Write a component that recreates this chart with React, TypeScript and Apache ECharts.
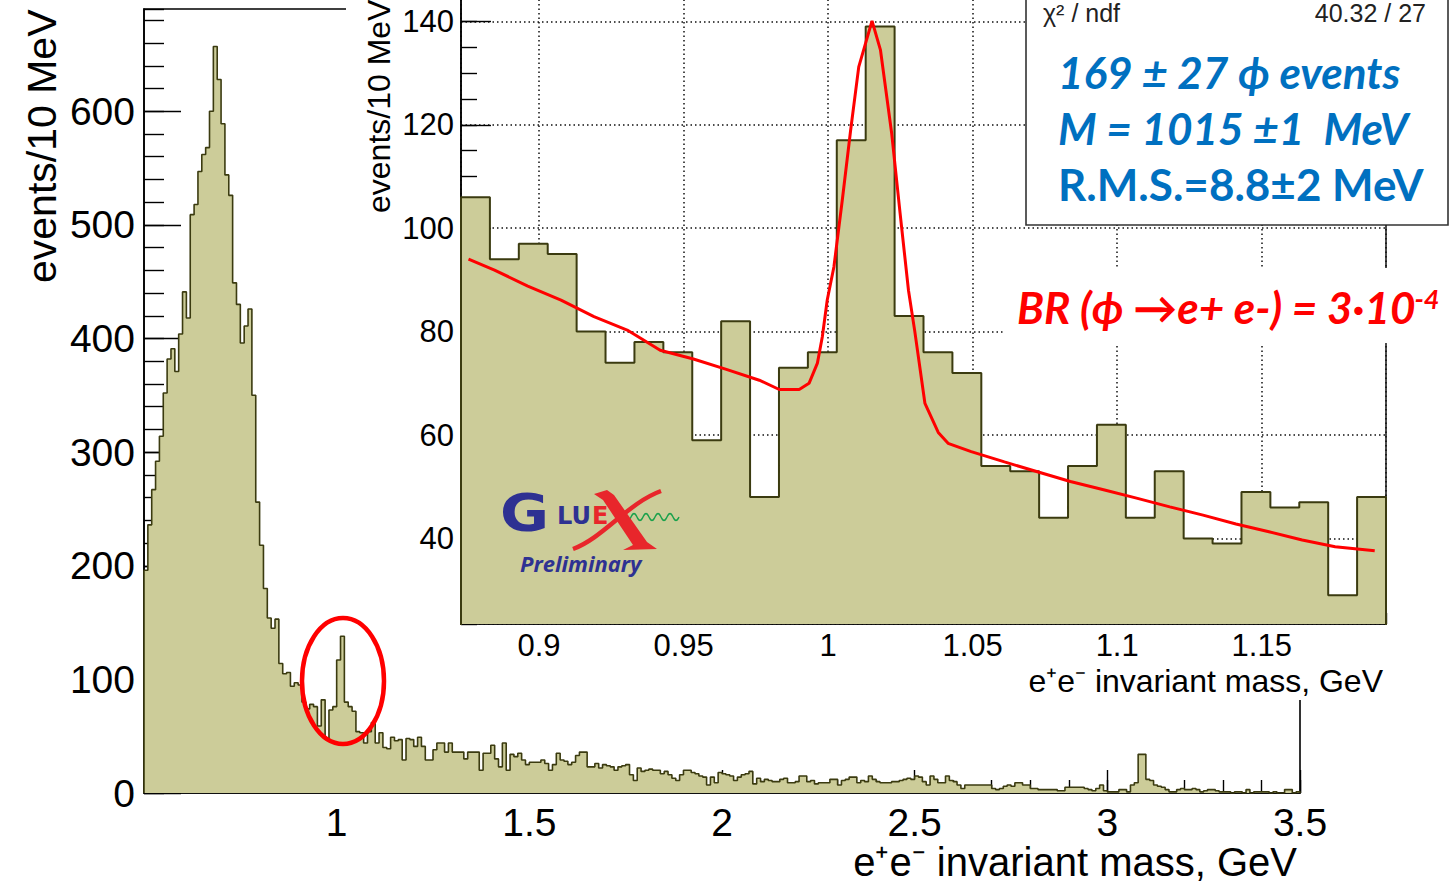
import React, { useEffect, useRef } from 'react';
import * as echarts from 'echarts';

// ---------- data ----------
// main histogram: 10 MeV bins from 0.50 GeV
const mainBinStart = 0.5;
const mainBinWidth = 0.01;
const mainCounts = [
  196, 236, 267, 292, 314, 352, 382, 391, 371, 404, // 0.50
  441, 418, 509, 518, 547, 562, 568, 600, 657, 628, // 0.60
  589, 544, 526, 449, 430, 396, 411, 426, 350, 256, // 0.70
  218, 180, 154, 145, 153, 114, 105, 106, 94, 97, // 0.80
  95, 80, 74, 78, 76, 59, 82, 48, 73, 76, // 0.90
  117, 138, 80, 76, 72, 54, 53, 44, 54, 62, // 1.00
  44, 53, 40, 39, 49, 46, 47, 29, 48, 47, // 1.10
  41, 49, 41, 29, 29, 38, 44, 44, 36, 44, // 1.20
  36, 36, 36, 30, 36, 36, 36, 20, 35, 35, // 1.30
  42, 30, 23, 44, 20, 34, 32, 35, 29, 25, // 1.40
  27, 27, 27, 29, 26, 20, 25, 35, 29, 28, // 1.50
  25, 27, 33, 36, 36, 23, 23, 26, 22, 25, // 1.60
  24, 23, 20, 23, 24, 25, 16, 11, 22, 19, // 1.70
  20, 21, 20, 20, 17, 19, 16, 13, 11, 16, // 1.80
  20, 20, 18, 17, 15, 14, 7, 14, 9, 18, // 1.90
  17, 16, 15, 11, 14, 16, 17, 19, 8, 13, // 2.00
  10, 12, 11, 10, 10, 12, 13, 9, 9, 10, // 2.10
  15, 15, 10, 11, 8, 9, 9, 9, 12, 12, // 2.20
  7, 11, 12, 14, 14, 9, 11, 10, 15, 12, // 2.30
  10, 9, 9, 9, 10, 10, 11, 12, 13, 12, // 2.40
  15, 14, 10, 7, 15, 12, 9, 9, 15, 11, // 2.50
  10, 7, 4, 7, 7, 7, 7, 7, 7, 7, // 2.60
  4, 3, 4, 6, 7, 6, 9, 9, 7, 7, // 2.70
  4, 4, 3, 3, 3, 3, 3, 2, 2, 5, // 2.80
  5, 5, 5, 5, 4, 3, 2, 4, 7, 2, // 2.90
  1, 1, 1, 3, 3, 1, 7, 9, 34, 34, // 3.00
  12, 11, 7, 6, 5, 3, 1, 1, 3, 4, // 3.10
  3, 3, 4, 3, 1, 2, 3, 3, 2, 1, // 3.20
  1, 1, 0, 1, 1, 0, 3, 0, 1, 1, // 3.30
  1, 1, 0, 1, 0, 0, 3, 3, 0, 1, // 3.40
];

// inset histogram: 10 MeV bins
const insetBinStart = 0.873;
const insetBinWidth = 0.01;
const insetCounts = [
  106, 94, 97, 95, 80, 74, 78, 76, 59, 82, 48, 73, 76, 117, 139, 83,
  76, 72, 54, 53, 44, 54, 62, 44, 53, 40, 39, 49, 46, 47, 29, 48,
];

// fitted curve
const fitMass = [
  0.8756, 0.8846, 0.8961, 0.9076, 0.919, 0.9305, 0.9419, 0.9534, 0.9648, 0.9762,
  0.9831, 0.99, 0.9934, 0.9963, 0.998, 0.9997, 1.002, 1.0049, 1.0078, 1.0106,
  1.0152, 1.0181, 1.022, 1.0249, 1.0278, 1.03, 1.0335, 1.0381, 1.0415, 1.0495,
  1.061, 1.0724, 1.0838, 1.0953, 1.1067, 1.1182, 1.1297, 1.1411, 1.1525, 1.164,
  1.1754, 1.1891,
];
const fitCounts = [
  94.0, 91.9, 88.8, 86.1, 82.9, 80.3, 76.4, 74.7, 72.7, 70.6,
  68.8, 68.8, 70.0, 73.9, 79.0, 86.1, 92.5, 105.4, 119.0, 131.2,
  140.1, 134.5, 118.3, 102.9, 88.0, 80.0, 66.1, 60.5, 58.4, 56.8,
  54.8, 52.9, 51.0, 49.4, 47.8, 46.1, 44.5, 42.8, 41.3, 39.7,
  38.4, 37.6,
];

// axis ranges and tick steps
const mainX = { min: 0.5, max: 3.5, major: 0.5, minor: 0.1 };
const mainY = { min: 0, max: 690, major: 100, minor: 20 };
const insetX = { min: 0.873, max: 1.193, major: 0.05, minor: 0.01 };
const insetY = { min: 23.45, max: 145.1, major: 20, minor: 5 };

// texts
const yTitle = 'events/10 MeV';
const xTitle = 'e\u207Ae\u207B invariant mass, GeV';
const statsLabel = '\u03C7\u00B2 / ndf';
const statsValue = '40.32 / 27';
const fitLines = ['169 \u00B1 27 \u03D5 events', 'M = 1015 \u00B11  MeV', 'R.M.S.=8.8\u00B12 MeV'];
const brText = 'BR (\u03D5 \u2192e+ e-) = 3\u00B710';
const brExp = '-4';

const FONT = '"Liberation Sans", Arial, Helvetica, sans-serif';
const CAL = 'Lato, "Open Sans", sans-serif';
const FILL = '#cccc99';
const EDGE = '#3b3b10';
const BLUE = '#0070c0';
const LOGO_BLUE = '#2e3192';
const LOGO_RED = '#e8262b';

function histPoints(start: number, width: number, counts: number[]) {
  const pts: number[][] = [[start, 0]];
  counts.forEach((c, i) => pts.push([+(start + i * width).toFixed(4), c]));
  pts.push([+(start + counts.length * width).toFixed(4), 0]);
  return pts;
}

const fmt = (v: number) => String(parseFloat(Number(v).toFixed(3)));

function valueAxis(o: any) {
  const { gridIndex, range, step, split, tickLen, labels, fontSize, margin, grid, z, position, showMax } = o;
  return {
    type: 'value',
    gridIndex,
    position,
    min: range.min,
    max: range.max,
    minInterval: step,
    maxInterval: step,
    splitNumber: split,
    z,
    axisLine: { show: labels, onZero: false, lineStyle: { color: '#000', width: 1.6 } },
    axisTick: { show: true, inside: true, length: tickLen, lineStyle: { color: '#000', width: 1.4 } },
    minorTick: { show: false },
    axisLabel: labels
      ? {
          show: true,
          margin,
          fontSize,
          fontFamily: FONT,
          color: '#000',
          showMinLabel: position === 'left' && range.min === 0,
          showMaxLabel: !!showMax,
          formatter: fmt,
        }
      : { show: false },
    splitLine: grid
      ? { show: true, lineStyle: { color: '#111', width: 1.5, type: [1.5, 3] } }
      : { show: false },
  };
}

export default function App() {
  const ref = useRef<HTMLDivElement>(null);

  useEffect(() => {
    if (!ref.current) return;
    const chart = echarts.init(ref.current, undefined, { renderer: 'svg' });

    const wave: number[][] = [];
    for (let i = 0; i <= 54; i++) {
      wave.push([625 + i, 517 + 3.5 * Math.sin((i / 54) * Math.PI * 2 * 4.5)]);
    }

    const option: any = {
      animation: false,
      backgroundColor: '#ffffff',
      grid: [
        {
          left: 144, top: 9, width: 1156, height: 784, show: true,
          borderColor: '#000', borderWidth: 1.6, backgroundColor: 'transparent',
          containLabel: false, outerBoundsMode: 'none', z: 0,
        },
        {
          left: 461, top: -5, width: 925, height: 629, show: true,
          borderColor: '#222', borderWidth: 1.6, backgroundColor: 'transparent',
          containLabel: false, outerBoundsMode: 'none', z: 10,
        },
      ],
      xAxis: [
        valueAxis({ gridIndex: 0, range: mainX, step: mainX.major, split: 6, tickLen: 23, labels: true, fontSize: 39, margin: 10, position: 'bottom', showMax: true, z: 1 }),
        valueAxis({ gridIndex: 0, range: mainX, step: mainX.minor, split: 30, tickLen: 13, labels: false, position: 'bottom', z: 1 }),
        valueAxis({ gridIndex: 1, range: insetX, step: insetX.major, split: 6, tickLen: 18, labels: true, fontSize: 31, margin: 6, grid: true, position: 'bottom', z: 10 }),
        valueAxis({ gridIndex: 1, range: insetX, step: insetX.minor, split: 32, tickLen: 11, labels: false, position: 'bottom', z: 10 }),
      ],
      yAxis: [
        valueAxis({ gridIndex: 0, range: mainY, step: mainY.major, split: 7, tickLen: 37, labels: true, fontSize: 39, margin: 9, position: 'left', z: 1 }),
        valueAxis({ gridIndex: 0, range: mainY, step: mainY.minor, split: 35, tickLen: 20, labels: false, position: 'left', z: 1 }),
        valueAxis({ gridIndex: 1, range: insetY, step: insetY.major, split: 6, tickLen: 30, labels: true, fontSize: 31, margin: 7, grid: true, position: 'left', z: 10 }),
        valueAxis({ gridIndex: 1, range: insetY, step: insetY.minor, split: 24, tickLen: 16, labels: false, position: 'left', z: 10 }),
      ],
      series: [
        {
          type: 'line', name: 'main', xAxisIndex: 0, yAxisIndex: 0, step: 'end',
          symbol: 'none', silent: true, z: 2,
          data: histPoints(mainBinStart, mainBinWidth, mainCounts),
          lineStyle: { color: EDGE, width: 1.6 },
          areaStyle: { color: FILL, opacity: 1, origin: 'start' },
        },
        {
          type: 'line', name: 'inset', xAxisIndex: 2, yAxisIndex: 2, step: 'end',
          symbol: 'none', silent: true, z: 12,
          data: histPoints(insetBinStart, insetBinWidth, insetCounts),
          lineStyle: { color: EDGE, width: 2 },
          areaStyle: { color: FILL, opacity: 1, origin: 'start' },
        },
        {
          type: 'line', name: 'fit', xAxisIndex: 2, yAxisIndex: 2,
          symbol: 'none', silent: true, z: 13,
          data: fitMass.map((m, i) => [m, fitCounts[i]]),
          lineStyle: { color: '#ff0000', width: 3 },
        },
      ],
      graphic: {
        elements: [
          { type: 'rect', z: 5, silent: true, shape: { x: 346, y: 0, width: 1107, height: 700 }, style: { fill: '#ffffff' } },
          // main titles
          { type: 'text', z: 3, x: 42, y: 283, rotation: Math.PI / 2, style: { text: yTitle, align: 'left', verticalAlign: 'middle', fontSize: 41, fontFamily: FONT, fill: '#000' } },
          { type: 'text', z: 3, x: 1297, y: 862, style: { text: xTitle, align: 'right', verticalAlign: 'middle', fontSize: 40, fontFamily: FONT, fill: '#000' } },
          // inset titles
          { type: 'text', z: 11, x: 379, y: 213, rotation: Math.PI / 2, style: { text: yTitle, align: 'left', verticalAlign: 'middle', fontSize: 32, fontFamily: FONT, fill: '#000' } },
          { type: 'text', z: 11, x: 1383, y: 681, style: { text: xTitle, align: 'right', verticalAlign: 'middle', fontSize: 32, fontFamily: FONT, fill: '#000' } },
          // stats box
          { type: 'rect', z: 20, shape: { x: 1026, y: -10, width: 422, height: 235 }, style: { fill: '#ffffff', stroke: '#333', lineWidth: 1.6 } },
          { type: 'text', z: 21, x: 1043, y: 13, style: { text: statsLabel, align: 'left', verticalAlign: 'middle', fontSize: 25, fontFamily: FONT, fill: '#222' } },
          { type: 'text', z: 21, x: 1426, y: 13, style: { text: statsValue, align: 'right', verticalAlign: 'middle', fontSize: 25, fontFamily: FONT, fill: '#222' } },
          { type: 'text', z: 21, x: 1058, y: 72, style: { text: fitLines[0], align: 'left', verticalAlign: 'middle', fontSize: 44, fontWeight: 'bold', fontStyle: 'italic', fontFamily: CAL, fill: BLUE } },
          { type: 'text', z: 21, x: 1058, y: 128, style: { text: fitLines[1], align: 'left', verticalAlign: 'middle', fontSize: 44, fontWeight: 'bold', fontStyle: 'italic', fontFamily: CAL, fill: BLUE } },
          { type: 'text', z: 21, x: 1058, y: 184, style: { text: fitLines[2], align: 'left', verticalAlign: 'middle', fontSize: 44, fontWeight: 'bold', fontFamily: CAL, fill: BLUE } },
          // BR text box
          { type: 'rect', z: 20, shape: { x: 1005, y: 268, width: 448, height: 75 }, style: { fill: '#ffffff' } },
          {
            type: 'text', z: 21, x: 1017, y: 307,
            style: {
              text: '{m|' + brText + '}{s|' + brExp + '}', align: 'left', verticalAlign: 'middle',
              rich: {
                m: { fontSize: 44, fontWeight: 'bold', fontStyle: 'italic', fontFamily: CAL, fill: '#ff0000' },
                s: { fontSize: 27, fontWeight: 'bold', fontStyle: 'italic', fontFamily: CAL, fill: '#ff0000', verticalAlign: 'top' },
              },
            },
          },
          // GlueX logo
          { type: 'text', z: 15, x: 500, y: 513, scaleX: 1.15, style: { text: 'G', align: 'left', verticalAlign: 'middle', fontSize: 52, fontWeight: 'bold', fontFamily: '"DejaVu Sans", sans-serif', fill: LOGO_BLUE } },
          { type: 'text', z: 15, x: 557, y: 516, style: { text: 'LU', align: 'left', verticalAlign: 'middle', fontSize: 24, fontWeight: 'bold', fontFamily: '"DejaVu Sans", sans-serif', fill: LOGO_BLUE } },
          { type: 'text', z: 15, x: 592, y: 516, style: { text: 'E', align: 'left', verticalAlign: 'middle', fontSize: 24, fontWeight: 'bold', fontFamily: '"DejaVu Sans", sans-serif', fill: LOGO_RED } },
          {
            type: 'polygon', z: 16,
            shape: { points: [[594, 494], [607, 490], [614, 495], [647, 542], [657, 549], [623, 550], [633, 545], [603, 500]] },
            style: { fill: LOGO_RED },
          },
          {
            type: 'bezierCurve', z: 16,
            shape: { x1: 661, y1: 491, cpx1: 628, cpy1: 503, cpx2: 603, cpy2: 538, x2: 573, y2: 549 },
            style: { stroke: LOGO_RED, lineWidth: 4.5, fill: 'none' },
          },
          { type: 'polyline', z: 15, shape: { points: wave }, style: { stroke: '#1aa14b', lineWidth: 1.5, fill: 'none' } },
          { type: 'text', z: 15, x: 520, y: 563, style: { text: 'Preliminary', align: 'left', verticalAlign: 'middle', fontSize: 22, fontWeight: 'bold', fontStyle: 'italic', fontFamily: '"Open Sans", sans-serif', fill: LOGO_BLUE } },
          // red ellipse
          { type: 'ellipse', z: 30, shape: { cx: 343, cy: 681, rx: 41, ry: 63 }, style: { fill: 'none', stroke: '#ff0000', lineWidth: 4.5 } },
        ],
      },
    };

    chart.setOption(option);
    return () => chart.dispose();
  }, []);

  return <div ref={ref} style={{ position: 'absolute', left: 0, top: 0, width: 1453, height: 885 }} />;
}
